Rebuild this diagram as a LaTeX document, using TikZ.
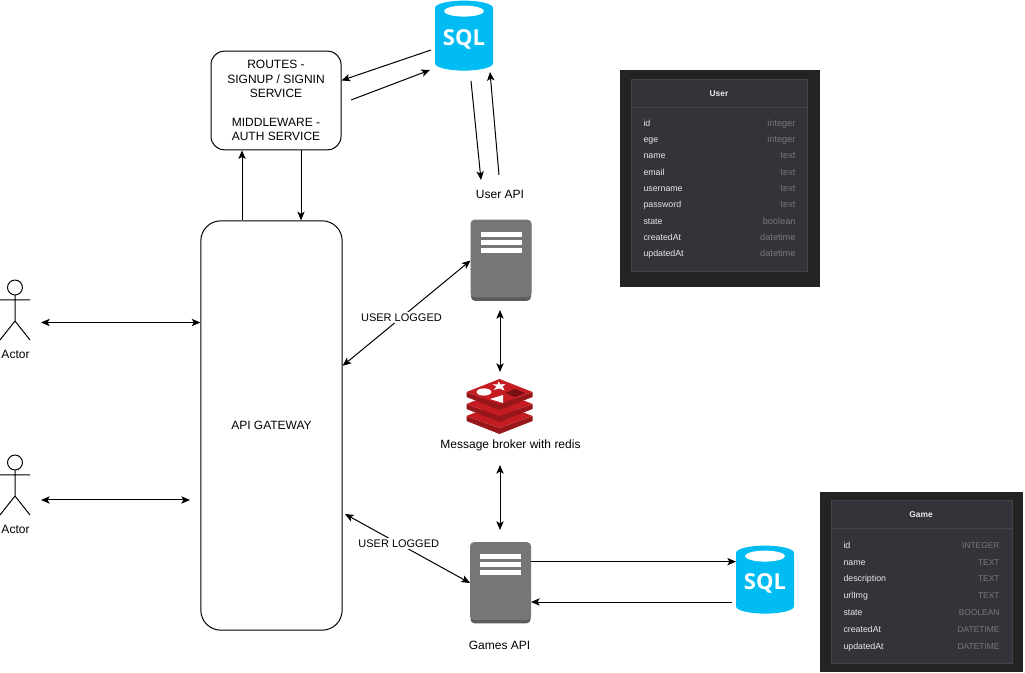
\documentclass[tikz,border=0pt]{standalone}
\usepackage{fontspec}
\setmainfont{Liberation Sans}
\newfontfamily\sqlfont{Open Sans}
\usetikzlibrary{arrows.meta,calc}
\usetikzlibrary{shapes.geometric}
\definecolor{sql_blue}{RGB}{0,188,242}
\definecolor{srv_light}{RGB}{118,118,118}
\definecolor{srv_dark}{RGB}{92,92,92}
\definecolor{redis_light}{RGB}{196,28,34}
\definecolor{redis_mid}{RGB}{150,22,26}
\definecolor{redis_dark}{RGB}{120,16,20}
\definecolor{tbl_outer}{RGB}{35,35,36}
\definecolor{tbl_inner}{RGB}{50,52,58}
\definecolor{tbl_line}{RGB}{66,68,74}
\definecolor{tbl_name}{RGB}{232,232,232}
\definecolor{tbl_type}{RGB}{118,120,124}

\begin{document}
\begin{tikzpicture}[<->,line width=0.75pt,>={Stealth[length=6.5pt,width=5.5pt,inset=1.6pt]},x=0.75pt,y=-0.75pt,font=\fontsize{9}{10.7}\selectfont]
    \tikzstyle{label}=[text=black]
    \tikzstyle{logged}=[fill=white, text=black, inner sep=1pt, font=\fontsize{8.25}{10}\selectfont]
    \tikzstyle{service}=[draw=black, align=center, text=black]
    \tikzstyle{sqldb}=[cylinder, shape border rotate=90, shape aspect=0.345, fill=sql_blue, draw=none, outer sep=0pt, inner sep=0pt, text=white, minimum width=43.5pt, font=\sqlfont\bfseries\fontsize{16.5}{17}\selectfont]
    \tikzstyle{server}=[fill=srv_dark, draw=none, rounded corners=3pt, minimum width=45pt, minimum height=60.5pt]
    \tikzstyle{tblname}=[anchor=west, text=tbl_name, inner sep=0pt, text height=5pt, text depth=1.5pt, font=\fontsize{6.6}{7}\selectfont]
    \tikzstyle{tbltype}=[anchor=east, text=tbl_type, inner sep=0pt, text height=5pt, text depth=1.5pt, font=\fontsize{6.9}{7}\selectfont]
    \tikzstyle{tbltitle}=[text=tbl_name, inner sep=0pt, font=\fontsize{6.3}{7}\bfseries\selectfont]

    \useasboundingbox (0,0) rectangle (1025,673);

    % boxes
    \node[service, rounded corners=10pt, minimum width=97.5pt, minimum height=74pt] (routes) at (276,100.5) {ROUTES -\\SIGNUP / SIGNIN\\SERVICE\\[10.7pt]MIDDLEWARE -\\AUTH SERVICE};
    \node[service, rounded corners=15pt, minimum width=106pt, minimum height=307pt] (gateway) at (271.5,425.5) {API GATEWAY};

    % databases
    \node[sqldb, minimum height=52.5pt] (sqlusers) at (464,39.5) {SQL};
    \node[sqldb, minimum height=51pt] (sqlgames) at (765,583.5) {SQL};
    \foreach \db in {sqlusers,sqlgames}
      \fill[white] ($(\db.north)+(0,10.5)$) ellipse (15pt and 4.1pt);

    % servers
    \node[server] (srvusers) at (501,260.5) {};
    \node[server] (srvgames) at (500.5,583) {};
    \foreach \srv in {srvusers,srvgames} {
      \fill[srv_light,rounded corners=3pt] (\srv.north west) rectangle ($(\srv.south east)+(0,-4)$);
      \foreach \b in {12,20,28}
        \fill[white] ($(\srv.north)+(-20.5,\b)$) rectangle ($(\srv.north)+(20.5,\b+5)$);
    }

    % redis
    \coordinate (redis) at (499.5,379);
    \foreach \dy in {24,12,0} {
      \fill[redis_mid] ($(redis)+(-33,13+\dy)$) -- ($(redis)+(0,25+\dy)$) -- ($(redis)+(33,13+\dy)$) -- ($(redis)+(33,18+\dy)$) -- ($(redis)+(0,31+\dy)$) -- ($(redis)+(-33,18+\dy)$) -- cycle;
      \fill[redis_light] ($(redis)+(-33,13+\dy)$) -- ($(redis)+(0,\dy)$) -- ($(redis)+(33,13+\dy)$) -- ($(redis)+(0,25+\dy)$) -- cycle;
    }
    \fill[white] ($(redis)+(-15.5,13)$) ellipse (5.6pt and 2.7pt);
    \fill[white] ($(redis)+(-1,2.5)$) -- ($(redis)+(1,5.5)$) -- ($(redis)+(6,5)$) -- ($(redis)+(3,7.5)$) -- ($(redis)+(5,11.5)$) -- ($(redis)+(0,9.5)$) -- ($(redis)+(-6,11)$) -- ($(redis)+(-3,7.5)$) -- ($(redis)+(-7,5.5)$) -- ($(redis)+(-2,5.5)$) -- cycle;
    \fill[white] ($(redis)+(-9.5,20)$) -- ($(redis)+(3.5,16)$) -- ($(redis)+(3.5,24)$) -- cycle;
    \fill[redis_dark] ($(redis)+(5.5,14)$) -- ($(redis)+(15.5,10)$) -- ($(redis)+(25.5,14)$) -- ($(redis)+(15.5,18)$) -- cycle;

    % actors
    \foreach \n/\y in {actora/0,actorb/175} {
      \begin{scope}[-,yshift=-0.75pt*\y]
        \draw (15,287.5) circle (5.6pt);
        \draw (15,295) -- (15,321) (0,300) -- (30,300) (0,340) -- (15,321) -- (30,340);
        \node[label] (\n) at (15.5,354) {Actor};
      \end{scope}
    }

    % labels
    \node[label] (userapi) at (500,194.5) {User API};
    \node[label] (gamesapi) at (499.5,645.5) {Games API};
    \node[label] (broker) at (510.5,445.5) {Message broker with redis};

    % free ends
    \coordinate (ea) at (41,322.5);
    \coordinate (eb) at (41,500);
    \coordinate (ec) at (190,500);
    \coordinate (ed) at (345,514);
    \coordinate (sa) at (431,50);
    \coordinate (sb) at (351,100);
    \coordinate (sc) at (430,70);
    \coordinate (sd) at (471,81);
    \coordinate (se) at (481,180);
    \coordinate (sf) at (499,175);
    \coordinate (sg) at (490,72);
    \coordinate (ra) at (500,310);
    \coordinate (rb) at (500,372);
    \coordinate (rc) at (500,465);
    \coordinate (rd) at (500,530);
    \coordinate (ga) at (732,602);
    \coordinate (gb) at (531,602);
    \coordinate (up) at (242,220);
    \coordinate (dn) at (301,150);

    \path
     (ea) edge (ea -| gateway.west)
     (eb) edge (ec)
     (gateway.40) edge node[logged, pos=0.46] (loggeda) {USER LOGGED} (srvusers.west)
     (ed) edge node[logged, pos=0.43] (loggedb) {USER LOGGED} (srvgames.west)
     (ra) edge (rb)
     (rc) edge (rd);
    \path[->]
     (sa) edge (routes.17)
     (sb) edge (sc)
     (sd) edge (se)
     (sf) edge (sg)
     (up |- gateway.north) edge (up |- routes.south)
     (dn |- routes.south) edge (dn |- gateway.north)
     (srvgames.35) edge (sqlgames.west |- srvgames.35)
     (ga) edge (gb);

    % tables
    \node[fill=tbl_outer, draw=none, minimum width=150pt, minimum height=162.75pt] (tblusers) at (720,178.5) {};
    \node[fill=tbl_inner, draw=tbl_line, thin, minimum width=132pt, minimum height=144pt] (innerusers) at (719,175) {};
    \draw[-,tbl_line,thin] (631,107) -- (807,107);
    \node[tbltitle] (titleusers) at (719,93.5) {User};
    \foreach \name/\kind [count=\i from 0] in {id/integer,ege/integer,name/text,email/text,username/text,password/text,state/boolean,createdAt/datetime,updatedAt/datetime} {
      \node[tblname] (ua\i) at (643,124+16.3*\i) {\name};
      \node[tbltype] (ub\i) at (796,124+16.3*\i) {\kind};
    }

    \node[fill=tbl_outer, draw=none, minimum width=152.25pt, minimum height=135pt] (tblgames) at (921.5,582) {};
    \node[fill=tbl_inner, draw=tbl_line, thin, minimum width=135.75pt, minimum height=122.25pt] (innergames) at (921.5,581.5) {};
    \draw[-,tbl_line,thin] (831,528) -- (1012,528);
    \node[tbltitle] (titlegames) at (921,514.5) {Game};
    \foreach \name/\kind [count=\i from 0] in {id/INTEGER,name/TEXT,description/TEXT,urlImg/TEXT,state/BOOLEAN,createdAt/DATETIME,updatedAt/DATETIME} {
      \node[tblname] (ga\i) at (843,546+16.8*\i) {\name};
      \node[tbltype, font=\fontsize{6.3}{7}\selectfont] (gb\i) at (1000,546+16.8*\i) {\kind};
    }
\end{tikzpicture}
\end{document}
